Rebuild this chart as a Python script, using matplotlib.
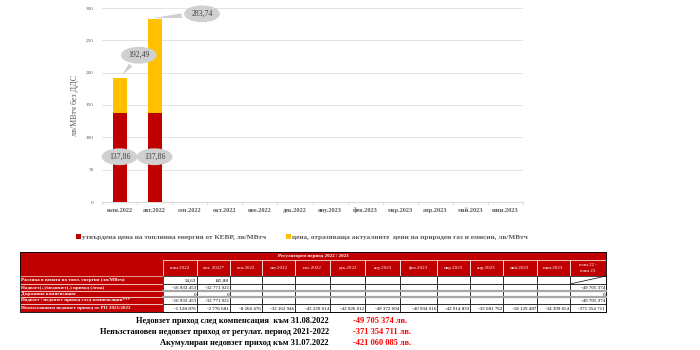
import matplotlib.pyplot as plt
import numpy as np
from matplotlib.patches import Rectangle

plt.rcParams['font.family'] = ['Liberation Serif', 'DejaVu Serif']

# chart data
months = ['юли.2022', 'авг.2022', 'сеп.2022', 'окт.2022', 'ное.2022', 'дек.2022',
          'яну.2023', 'фев.2023', 'мар.2023', 'апр.2023', 'май.2023', 'юни.2023']
kevr_price = [137.86, 137.86]
actual_price = [192.49, 283.74]
legend_labels = ['утвърдена цена на топлинна енергия от КЕВР, лв/МВтч',
                 'цена, отразяваща актуалните  цени на природен газ и емисии, лв/МВтч']

# table data
table_title = 'Регулаторен период 2022 / 2023'
col_headers = ['юли.2022', 'авг. 2022*', 'сеп.2022', 'окт.2022', 'ное.2022', 'дек.2022',
               'яну.2023', 'фев.2023', 'мар.2023', 'апр.2023', 'май.2023', 'юни.2023',
               'юли 22 -\nюни 23']
row_labels = ['Разлика в цената на топл. енергия (лв/МВтч)',
              'Надвзет(+)/недовзет(-) приход (лева)',
              'Държавна компенсация',
              'Надвзет / недовзет приход след компенсации***',
              'Невъзстановен недовзет приход от РП 2021/2022']
price_diff = ['54,63', '145,88']
revenue = ['-16 933 453', '-32 771 921']
compensation = ['0', '0']
after_comp = ['-16 933 453', '-32 771 921']
totals = ['', '-49 705 374', '0', '-49 705 374']
unrecovered = ['-1 128 876', '-2 776 681', '-8 260 476', '-32 162 946', '-45 229 014',
               '-42 926 012', '-49 372 094', '-40 994 016', '-42 914 833', '-33 081 762',
               '-18 129 487', '-34 399 654', '-371 354 711']

summary_labels = ['Недовзет приход след компенсация  към 31.08.2022',
                  'Невъзстановен недовзет приход от регулат. период 2021-2022',
                  'Акумулиран недовзет приход към 31.07.2022']
summary_values = ['-49 705 374 лв.', '-371 354 711 лв.', '-421 060 085 лв.']

RED = '#C00000'
YELLOW = '#FFC000'
GREY_TXT = '#595959'

W, H = 700, 350
fig = plt.figure(figsize=(7, 3.5), dpi=100)

# --- bar chart ---
ax = fig.add_axes([102 / W, 1 - 202 / H, 421 / W, 194 / H])
x = np.arange(len(months))
n = len(kevr_price)
extra = np.array(actual_price) - np.array(kevr_price)
b1 = ax.bar(x[:n], kevr_price, width=0.4, color=RED, zorder=3)
b2 = ax.bar(x[:n], extra, bottom=kevr_price, width=0.4, color=YELLOW, zorder=3)
ax.set_xlim(-0.5, len(months) - 0.5)
ax.set_ylim(0, 300)
ax.set_yticks(np.arange(0, 301, 50))
ax.set_xticks(x)
ax.set_xticklabels(months, fontsize=4.5, color=GREY_TXT, fontweight='bold', va='baseline')
ax.tick_params(axis='y', labelsize=3.8, colors=GREY_TXT, length=0, pad=6)
ax.tick_params(axis='x', length=0, pad=7)
ax.set_xticks(np.arange(-0.5, len(months), 1), minor=True)
ax.tick_params(axis='x', which='minor', length=2, color='#d9d9d9')
ax.grid(axis='y', color='#e3e3e3', linewidth=0.7, zorder=0)
for s in ['top', 'right', 'left']:
    ax.spines[s].set_visible(False)
ax.spines['bottom'].set_color('#d9d9d9')
ax.set_ylabel('лв/МВтч без ДДС', fontsize=5.8, color=GREY_TXT, labelpad=5)

box = dict(boxstyle='ellipse,pad=0.25', fc='#d0d0d0', ec='none')
for i, v in enumerate(kevr_price):
    ax.text(x[i], 70, f'{v:.2f}'.replace('.', ','), ha='center', va='center',
            fontsize=5.6, color='#404040', bbox=box, zorder=5)
label_pos = [(0.55, 227), (2.35, 291)]
for i, v in enumerate(actual_price):
    ax.annotate(f'{v:.2f}'.replace('.', ','), xy=(x[i] + (0.02 if i == 0 else -0.15), v),
                xytext=label_pos[i], ha='center', va='center', fontsize=5.6,
                color='#404040', bbox=box, zorder=5,
                arrowprops=dict(arrowstyle='wedge,tail_width=0.6', fc='#d0d0d0', ec='none'))

fig.legend([b1, b2], legend_labels, loc='center', bbox_to_anchor=(302 / W, 1 - 237 / H),
           ncol=2, frameon=False, handlelength=0.6, handleheight=0.6,
           handletextpad=0.2, columnspacing=2.8,
           prop={'weight': 'bold', 'size': 5.2})
for t in fig.legends[0].get_texts():
    t.set_color(GREY_TXT)

# --- table ---
tab = fig.add_axes([0, 0, 1, 1])
tab.set_xlim(0, W)
tab.set_ylim(H, 0)
tab.axis('off')

cols = [20, 163, 197, 230, 262, 295, 330, 365, 400, 437, 470, 503, 537, 570, 606]
rows = [252, 260, 276, 284, 291, 297, 304, 312]
fs = 3.6


def cell(x0, x1, y0, y1, fc, ec='black', lw=0.5):
    tab.add_patch(Rectangle((x0, y0), x1 - x0, y1 - y0, fc=fc, ec=ec, lw=lw))


cell(cols[0], cols[-1], rows[0], rows[1], RED, ec=RED)
tab.text((cols[0] + cols[-1]) / 2, (rows[0] + rows[1]) / 2, table_title, ha='center',
         va='center', color='white', fontsize=fs, fontweight='bold')
cell(cols[0], cols[1], rows[1], rows[2], RED, ec=RED)
for j, h in enumerate(col_headers):
    cell(cols[j + 1], cols[j + 2], rows[1], rows[2], RED, ec='white', lw=0.5)
    tab.text((cols[j + 1] + cols[j + 2]) / 2, (rows[1] + rows[2]) / 2, h, ha='center',
             va='center', color='white', fontsize=fs, linespacing=1.6)

body = [price_diff, revenue, compensation, after_comp]
for r, lab in enumerate(row_labels):
    y0, y1 = rows[r + 2], rows[r + 3]
    cell(cols[0], cols[1], y0, y1, RED, ec='white', lw=0.4)
    tab.text(cols[0] + 1, (y0 + y1) / 2, lab, ha='left', va='center', color='white',
             fontsize=fs, fontweight='bold')
    for j in range(len(col_headers)):
        cell(cols[j + 1], cols[j + 2], y0, y1, 'white')
    if r < 4:
        vals = body[r]
        for j, v in enumerate(vals):
            tab.text(cols[j + 2] - 1, (y0 + y1) / 2 + 0.5, v, ha='right', va='center',
                     fontsize=fs)
        tab.text(cols[-1] - 1, (y0 + y1) / 2 + 0.5, totals[r], ha='right', va='center',
                 fontsize=fs)
    else:
        for j, v in enumerate(unrecovered):
            tab.text(cols[j + 2] - 1, (y0 + y1) / 2 + 0.5, v, ha='right', va='center',
                     fontsize=fs)

# grey separators and diagonal
for yy in [rows[4], rows[5]]:
    tab.plot([cols[1], cols[-1]], [yy, yy], color='#a6a6a6', lw=1.6)
tab.plot([cols[-2], cols[-1]], [rows[3], rows[2]], color='black', lw=0.5)
tab.add_patch(Rectangle((cols[0], rows[0]), cols[-1] - cols[0], rows[-1] - rows[0],
                        fc='none', ec='black', lw=0.6))

# --- summary lines ---
for k, (lab, val) in enumerate(zip(summary_labels, summary_values)):
    yy = 321 + k * 11
    tab.text(329, yy, lab, ha='right', va='center', fontsize=6, fontweight='bold')
    tab.text(353, yy, val, ha='left', va='center', fontsize=6, fontweight='bold', color='red')

fig.savefig('out.png', dpi=100)
